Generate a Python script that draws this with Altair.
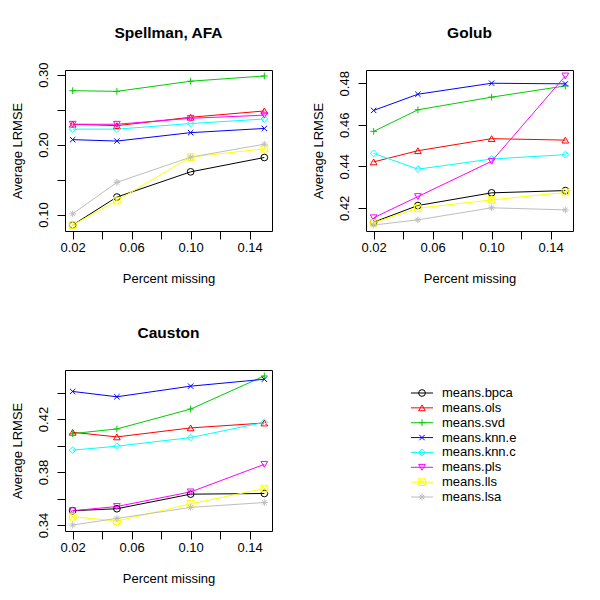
import altair as alt
import pandas as pd

FONT = "Liberation Sans"

methods = ["means.bpca", "means.ols", "means.svd", "means.knn.e",
           "means.knn.c", "means.pls", "means.lls", "means.lsa"]
colors = ["#000000", "#FF0000", "#00CD00", "#0000FF",
          "#00FFFF", "#FF00FF", "#FFFF00", "#BEBEBE"]
shapes = [
    "circle",
    "triangle-up",
    "M-1,0L1,0M0,-1L0,1",
    "M-0.8,-0.8L0.8,0.8M-0.8,0.8L0.8,-0.8",
    "diamond",
    "triangle-down",
    "M-1,-1L1,-1L1,1L-1,1ZM-1,-1L1,1M-1,1L1,-1",
    "M-1,0L1,0M0,-1L0,1M-0.7,-0.7L0.7,0.7M-0.7,0.7L0.7,-0.7",
]

pct = [0.02, 0.05, 0.10, 0.15]

spellman = {
    "means.bpca": [0.085, 0.125, 0.161, 0.1815],
    "means.ols": [0.229, 0.227, 0.239, 0.248],
    "means.svd": [0.277, 0.276, 0.2905, 0.298],
    "means.knn.e": [0.207, 0.205, 0.217, 0.223],
    "means.knn.c": [0.222, 0.222, 0.230, 0.2365],
    "means.pls": [0.229, 0.229, 0.2375, 0.242],
    "means.lls": [0.085, 0.120, 0.182, 0.194],
    "means.lsa": [0.101, 0.146, 0.182, 0.2005],
}
golub = {
    "means.bpca": [0.4131, 0.4211, 0.4272, 0.4283],
    "means.ols": [0.4421, 0.4475, 0.4533, 0.4526],
    "means.svd": [0.4568, 0.4672, 0.4733, 0.4787],
    "means.knn.e": [0.4669, 0.4747, 0.4800, 0.4797],
    "means.knn.c": [0.4462, 0.4386, 0.4435, 0.4456],
    "means.pls": [0.4152, 0.4254, 0.4424, 0.4835],
    "means.lls": [0.4128, 0.4198, 0.4238, 0.4274],
    "means.lsa": [0.4117, 0.4142, 0.4200, 0.4190],
}
causton = {
    "means.bpca": [0.3508, 0.3523, 0.3633, 0.3638],
    "means.ols": [0.4100, 0.4065, 0.4133, 0.4170],
    "means.svd": [0.4090, 0.4125, 0.4275, 0.4525],
    "means.knn.e": [0.4408, 0.4368, 0.4448, 0.4500],
    "means.knn.c": [0.3965, 0.3995, 0.4060, 0.4175],
    "means.pls": [0.3508, 0.3540, 0.3650, 0.3858],
    "means.lls": [0.3463, 0.3430, 0.3560, 0.3675],
    "means.lsa": [0.3400, 0.3450, 0.3533, 0.3570],
}

x_ticks = [0.02, 0.04, 0.06, 0.08, 0.10, 0.12, 0.14]
x_labels = ["0.02", "0.06", "0.10", "0.14"]
sp_ticks = [0.10, 0.15, 0.20, 0.25, 0.30]
sp_labels = ["0.10", "0.20", "0.30"]
go_ticks = [0.42, 0.44, 0.46, 0.48]
go_labels = ["0.42", "0.44", "0.46", "0.48"]
ca_ticks = [0.34, 0.36, 0.38, 0.40, 0.42, 0.44]
ca_labels = ["0.34", "0.38", "0.42"]

W, H = 207, 161

color = alt.Color("method:N", scale=alt.Scale(domain=methods, range=colors), legend=None)
shape = alt.Shape("method:N", scale=alt.Scale(domain=methods, range=shapes), legend=None)


def label_expr(labels):
    arr = ",".join("'%s'" % s for s in labels)
    return "indexof([%s], datum.label) >= 0 ? datum.label : ''" % arr


def expand(lo, hi):
    d = (hi - lo) * 0.04
    return [lo - d, hi + d]


def panel(title, vals, yticks, ylabels, toff):
    rows = []
    for m in methods:
        for p, v in zip(pct, vals[m]):
            rows.append({"pct": p, "lrmse": v, "method": m})
    df = pd.DataFrame(rows)
    x = alt.X("pct:Q",
              scale=alt.Scale(domain=expand(min(pct), max(pct)), nice=False, zero=False),
              axis=alt.Axis(values=x_ticks, format=".2f", labelExpr=label_expr(x_labels),
                            title="Percent missing", labelBaseline="alphabetic",
                            labelPadding=12, labelFlush=False, labelOverlap=False,
                            titleY=51, titleBaseline="alphabetic", titleX=W / 2))
    y = alt.Y("lrmse:Q",
              scale=alt.Scale(domain=expand(df.lrmse.min(), df.lrmse.max()), nice=False, zero=False),
              axis=alt.Axis(values=yticks, format=".2f", labelExpr=label_expr(ylabels),
                            title="Average LRMSE", labelAngle=270, labelAlign="center",
                            labelBaseline="alphabetic", labelPadding=10, labelFlush=False,
                            labelOverlap=False, titleX=-44, titleY=H / 2,
                            titleAngle=270, titleBaseline="alphabetic", titleAlign="center"))
    base = alt.Chart(df)
    lines = base.mark_line(strokeWidth=1).encode(x=x, y=y, color=color)
    pts = base.mark_point(filled=False, size=45, strokeWidth=1, opacity=1).encode(
        x=x, y=y, color=color, shape=shape)
    return alt.layer(lines, pts).properties(
        width=W, height=H,
        title=alt.TitleParams(text=title, font=FONT, fontSize=15.5, fontWeight="bold",
                              color="black", baseline="alphabetic", offset=toff,
                              anchor="middle"))


sp = panel("Spellman, AFA", spellman, sp_ticks, sp_labels, 8)
go = panel("Golub", golub, go_ticks, go_labels, 17)
ca = panel("Causton", causton, ca_ticks, ca_labels, 17)

leg_df = pd.DataFrame({"method": methods})
ly = alt.Y("method:N", scale=alt.Scale(type="point", domain=methods, range=[23, 127], padding=0),
           axis=None)
lbase = alt.Chart(leg_df)
lrules = lbase.mark_rule(strokeWidth=1).encode(y=ly, x=alt.value(45), x2=alt.value(67), color=color)
lpts = lbase.mark_point(filled=False, size=45, strokeWidth=1, opacity=1).encode(
    y=ly, x=alt.value(56), color=color, shape=shape)
ltext = lbase.mark_text(align="left", baseline="middle", font=FONT, fontSize=13, color="black").encode(
    y=ly, x=alt.value(76), text="method:N")
leg = alt.layer(lrules, lpts, ltext).properties(
    width=W, height=H, view=alt.ViewBackground(stroke="transparent"))

chart = alt.concat(sp, go, ca, leg, columns=2, spacing={"row": 139, "column": 94},
                   bounds="flush").resolve_scale(x="independent", y="independent").properties(
    padding={"left": 2, "top": 17, "right": 0, "bottom": 0},
    background="white",
).configure_view(stroke="black", strokeWidth=1).configure_axis(
    grid=False, domain=False, tickColor="black", tickSize=8, tickWidth=1,
    labelFont=FONT, labelFontSize=13, labelColor="black",
    titleFont=FONT, titleFontSize=13, titleFontWeight="normal", titleColor="black",
)

chart.save("out.html", embed_options={"renderer": "svg", "actions": False})
